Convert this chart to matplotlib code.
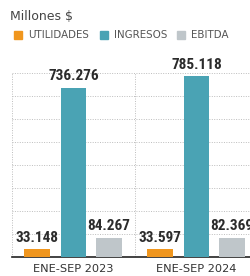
import matplotlib.pyplot as plt
import numpy as np

periods = ["ENE-SEP 2023", "ENE-SEP 2024"]
series = ["UTILIDADES", "INGRESOS", "EBITDA"]
utilidades = [33.148, 33.597]
ingresos = [736.276, 785.118]
ebitda = [84.267, 82.369]
colors = ["#f0961e", "#4aa3b4", "#bfc6ca"]

fig = plt.figure(figsize=(2.51, 2.76), dpi=100)
ax = fig.add_axes([12 / 251, 19 / 276, 246 / 251, 184 / 276])

x = np.arange(len(periods))
width = 0.21
offsets = [-0.30, 0.0, 0.29]
label_font = dict(family=["Roboto Condensed", "DejaVu Sans"], stretch="condensed",
                  weight="bold", fontsize=11, color="#2b2b2b")

for vals, off, col in zip([utilidades, ingresos, ebitda], offsets, colors):
    bars = ax.bar(x + off, vals, width, color=col, zorder=3)
    for b, v in zip(bars, vals):
        ax.text(b.get_x() + b.get_width() / 2, v + 20, f"{v:.3f}",
                ha="center", va="bottom", clip_on=False, **label_font)

ax.set_xlim(-0.5, 1.5)
ax.set_ylim(0, 800)
ax.set_yticks(np.arange(0, 801, 100))
ax.set_xticks([-0.5, 0.5, 1.5])
ax.grid(True, color="#bdbdbd", linestyle=(0, (1, 1.5)), linewidth=0.7, zorder=0)
ax.tick_params(length=0, labelleft=False, labelbottom=False)
for s in ["top", "right", "left"]:
    ax.spines[s].set_visible(False)
ax.spines["bottom"].set_color("#222222")
ax.spines["bottom"].set_linewidth(1.2)

for xi, p in zip(x, periods):
    ax.text(xi, -30, p, ha="center", va="top", fontsize=8.2, color="#333333",
            family="DejaVu Sans", clip_on=False)

fig.text(10 / 251, 1 - 16 / 276, "Millones $", fontsize=9, color="#444444",
         va="center", ha="left")

legend_x = [14, 100, 177]
for lx, name, col in zip(legend_x, series, colors):
    fig.patches.append(plt.Rectangle((lx / 251, 1 - 39 / 276), 8 / 251, 8 / 276,
                                     transform=fig.transFigure, color=col))
    fig.text((lx + 14) / 251, 1 - 35 / 276, name, fontsize=7.4, color="#555555",
             va="center", ha="left", family="DejaVu Sans")

fig.savefig("out.png", dpi=100)
